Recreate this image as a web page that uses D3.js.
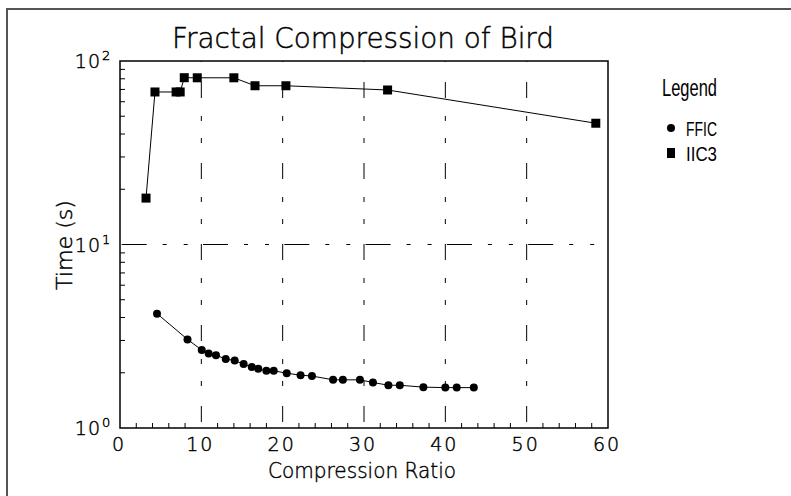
<!DOCTYPE html>
<html><head><meta charset="utf-8">
<script src="https://cdn.jsdelivr.net/npm/d3@7"></script>
<style>body{margin:0;background:#fff}svg{display:block}.lt{stroke:#000;stroke-width:0.45px}</style>
</head><body>
<svg id="c" width="791" height="496"></svg>
<script>
const title = "Fractal Compression of Bird";
const xLabel = "Compression Ratio";
const yLabel = "Time (s)";
const xTicks = [0,10,20,30,40,50,60];
const yTickExps = [0,1,2];
const seriesNames = ["FFIC","IIC3"];
const fficX = [4.55,8.3,10.05,10.9,11.8,13.0,14.1,15.2,16.2,17.0,18.0,18.9,20.5,22.2,23.6,26.2,27.4,29.5,31.1,33.0,34.4,37.3,40.0,41.4,43.5];
const fficY = [4.20,3.04,2.66,2.55,2.49,2.38,2.33,2.23,2.15,2.10,2.05,2.05,1.99,1.94,1.92,1.83,1.83,1.83,1.77,1.71,1.71,1.67,1.66,1.66,1.66];
const iicX = [3.2,4.3,6.9,7.4,7.9,9.5,14.0,16.6,20.4,32.9,58.5];
const iicY = [17.9,67.8,67.8,67.8,81.1,81.0,81.0,73.3,73.3,69.5,45.8];

const svg = d3.select("#c");
const font = "'DejaVu Sans', sans-serif";
const fw = 200;
const narrow = "'Liberation Sans Narrow','Liberation Sans', sans-serif";
const L=120,R=608,T=61,B=428;
const x = d3.scaleLinear().domain([0,60]).range([L,R]);
const y = d3.scaleLog().domain([1,100]).range([B,T]);

// outer frame
svg.append("rect").attr("x",7).attr("y",9).attr("width",800).attr("height",500)
  .attr("fill","none").attr("stroke","#555").attr("stroke-width",2);

// grid lines
const g = svg.append("g");
[10,20,30,40,50].forEach(v=>{
  g.append("line").attr("x1",x(v)).attr("x2",x(v)).attr("y1",B).attr("y2",T)
   .attr("stroke","#000").attr("stroke-width",1)
   .attr("stroke-dasharray","16,20,5,17,5,18").attr("stroke-dashoffset",-6);
});
g.append("line").attr("x1",L).attr("x2",R).attr("y1",y(10)).attr("y2",y(10))
  .attr("stroke","#000").attr("stroke-width",1)
  .attr("stroke-dasharray","25,16,4,17,4,15.3").attr("stroke-dashoffset",-1.7);

// minor ticks
d3.range(2,60,2).filter(v=>v%10!==0).forEach(v=>{
  g.append("line").attr("x1",x(v)).attr("x2",x(v)).attr("y1",B).attr("y2",B-5)
   .attr("stroke","#000").attr("stroke-width",1);
});
[1,10].forEach(d=>{
  d3.range(2,10).forEach(m=>{
    g.append("line").attr("x1",L).attr("x2",L+5).attr("y1",y(d*m)).attr("y2",y(d*m))
     .attr("stroke","#000").attr("stroke-width",1);
  });
});

// box
svg.append("rect").attr("x",L).attr("y",T).attr("width",R-L).attr("height",B-T)
  .attr("fill","none").attr("stroke","#000").attr("stroke-width",1.5);

// x tick labels
xTicks.forEach(v=>{
  svg.append("text").attr("class","lt").attr("x",x(v)-1).attr("y",451).attr("text-anchor","middle")
    .attr("font-family",font).attr("font-weight",fw).attr("font-size",19).attr("letter-spacing",2).text(v);
});
// y tick labels
yTickExps.forEach(e=>{
  svg.append("text").attr("class","lt").attr("x",101).attr("y",y(Math.pow(10,e))+7).attr("text-anchor","end")
    .attr("font-family",font).attr("font-weight",fw).attr("font-size",19).attr("letter-spacing",1).text("10");
  svg.append("text").attr("class","lt").attr("x",102).attr("y",y(Math.pow(10,e))-1).attr("font-family",font)
    .attr("font-weight",fw).attr("font-size",13).text(e);
});

// title and axis titles
svg.append("text").attr("class","lt").attr("x",363).attr("y",48).attr("text-anchor","middle")
  .attr("font-family",font).attr("font-weight",fw).attr("font-size",28).attr("textLength",382)
  .attr("lengthAdjust","spacingAndGlyphs").text(title);
svg.append("text").attr("class","lt").attr("x",362).attr("y",478).attr("text-anchor","middle")
  .attr("font-family",font).attr("font-weight",fw).attr("font-size",22).attr("textLength",188)
  .attr("lengthAdjust","spacingAndGlyphs").text(xLabel);
svg.append("text").attr("class","lt").attr("transform","translate(72,245) rotate(-90)").attr("text-anchor","middle")
  .attr("font-family",font).attr("font-weight",fw).attr("font-size",22).attr("textLength",90)
  .attr("lengthAdjust","spacingAndGlyphs").text(yLabel);

// lines
const line = d3.line().x(d=>x(d[0])).y(d=>y(d[1]));
const ffic = fficX.map((v,i)=>[v,fficY[i]]);
const iic = iicX.map((v,i)=>[v,iicY[i]]);
svg.append("path").attr("d",line(ffic)).attr("fill","none").attr("stroke","#000").attr("stroke-width",1);
svg.append("path").attr("d",line(iic)).attr("fill","none").attr("stroke","#000").attr("stroke-width",1);
svg.selectAll(".c").data(ffic).enter().append("circle")
  .attr("cx",d=>x(d[0])).attr("cy",d=>y(d[1])).attr("r",4).attr("fill","#000");
svg.selectAll(".s").data(iic).enter().append("rect")
  .attr("x",d=>x(d[0])-4.5).attr("y",d=>y(d[1])-4.5).attr("width",9).attr("height",9).attr("fill","#000");

// legend
svg.append("text").attr("x",662).attr("y",96).attr("font-family",narrow).attr("font-size",23)
  .attr("textLength",55).attr("lengthAdjust","spacingAndGlyphs").text("Legend");
svg.append("circle").attr("cx",671).attr("cy",128).attr("r",4).attr("fill","#000");
svg.append("rect").attr("x",667).attr("y",148).attr("width",8).attr("height",10).attr("fill","#000");
svg.append("text").attr("x",686).attr("y",136).attr("font-family",narrow).attr("font-size",21)
  .attr("textLength",31).attr("lengthAdjust","spacingAndGlyphs").text(seriesNames[0]);
svg.append("text").attr("x",686).attr("y",161).attr("font-family",narrow).attr("font-size",21)
  .attr("textLength",31).attr("lengthAdjust","spacingAndGlyphs").text(seriesNames[1]);
</script>
</body></html>
